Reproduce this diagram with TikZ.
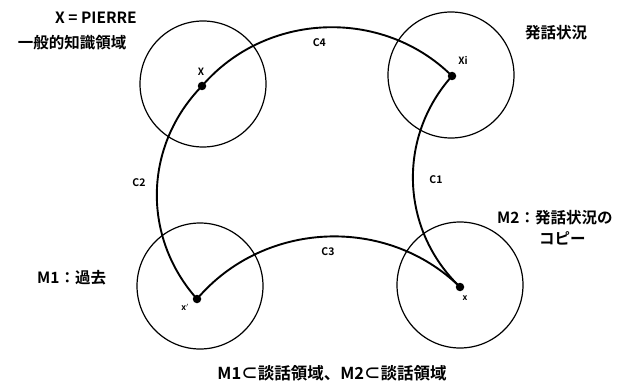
\documentclass[tikz,border=0pt]{standalone}
\usepackage{fontspec}
\setmainfont{Noto Sans CJK JP}[BoldFont={Noto Sans CJK JP Bold}]
\begin{document}
\begin{tikzpicture}[x=1pt,y=-1pt,
  region/.style={draw,circle,line width=1.2pt,minimum size=126pt,inner sep=0pt},
  dot/.style={fill,circle,minimum size=8.5pt,inner sep=0pt},
  conn/.style={line width=1.9pt},
  big/.style={font=\fontsize{15.5}{18}\selectfont\bfseries,inner sep=0pt},
  clab/.style={font=\fontsize{10.5}{12}\selectfont\bfseries,inner sep=0pt},
  plab/.style={font=\fontsize{10}{12}\selectfont\bfseries,inner sep=0pt},
  slab/.style={font=\fontsize{8.5}{10}\selectfont\bfseries,inner sep=0pt}]
\useasboundingbox (0,0) rectangle (640,385);
% regions
\node[region] (RTL) at (203,84) {};
\node[region] (RTR) at (451,75) {};
\node[region] (RBL) at (200,286) {};
\node[region] (RBR) at (460,285) {};
% points
\node[dot] (X) at (202,86) {};
\node[dot] (Xi) at (452,76) {};
\node[dot] (xp) at (197,299) {};
\node[dot] (x) at (460,287) {};
% connectors
\draw[conn] (X.center) to[bend left=47] node[pos=0.48,below=10pt,clab]{C4} (Xi.center);
\draw[conn] (X.center) to[bend right=43] (xp.center);
\draw[conn] (Xi.center) to[bend right=44] (x.center);
\draw[conn] (xp.center) to[bend left=47] (x.center);
% connector labels
\node[clab] (lC2) at (139,183) {C2};
\node[clab] (lC1) at (436,180) {C1};
\node[clab] (lC3) at (328,252) {C3};
% point labels
\node[plab] (lX) at (201,72) {X};
\node[plab] (lXi) at (463,60) {Xi};
\node[slab] (lxp) at (185,307) {x$'$};
\node[slab] (lx) at (465,298) {x};
% texts
\node[big] (t1) at (96,18) {X = PIERRE};
\node[big] (t2) at (72,43) {一般的知識領域};
\node[big] (t3) at (556,33) {発話状況};
\node[big,anchor=west] (t4) at (497,218) {M2：発話状況の};
\node[big,anchor=west] (t5) at (539,238) {コピー};
\node[big,anchor=west] (t6) at (37,278) {M1：過去};
\node[big,font=\fontsize{16.5}{19}\selectfont\bfseries] (t7) at (332,373) {M1⊂談話領域、M2⊂談話領域};
\end{tikzpicture}
\end{document}
